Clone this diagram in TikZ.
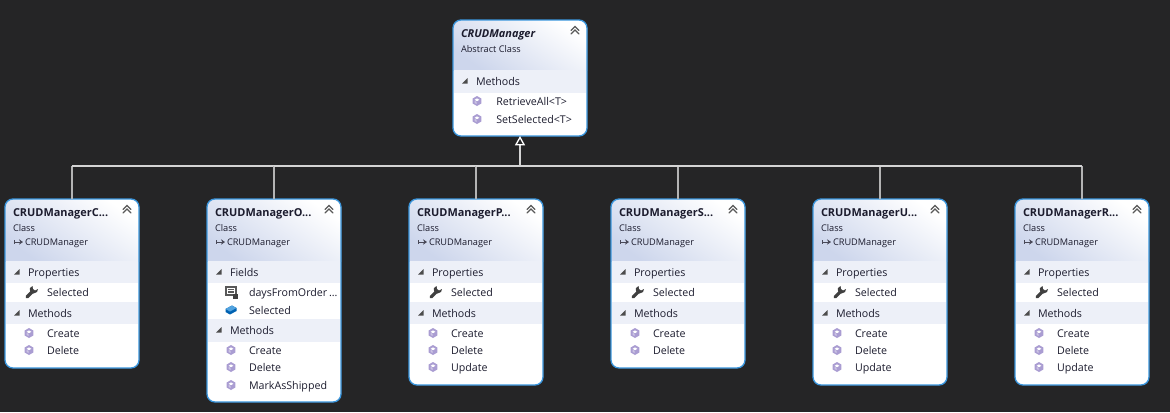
\documentclass[tikz,border=0pt]{standalone}
\usepackage{fontspec}
\setmainfont{Open Sans}
\usetikzlibrary{arrows.meta}
\definecolor{bgc}{HTML}{252526}
\definecolor{edgec}{HTML}{3A96DD}
\definecolor{hdrc}{HTML}{CDD6EC}
\definecolor{bandc}{HTML}{EDF0F8}
\definecolor{inkc}{HTML}{1C1C2E}
\definecolor{linec}{HTML}{D4D4D4}
\definecolor{methc}{HTML}{8E7CC3}
\tikzset{
  txt/.style={anchor=base west,inner sep=0pt,outer sep=0pt,text=inkc,font=\fontsize{8pt}{9pt}\selectfont},
  smalltxt/.style={txt,font=\fontsize{6.9pt}{8pt}\selectfont},
  titletxt/.style={txt,font=\fontsize{8.2pt}{9pt}\selectfont\bfseries},
  boxnode/.style={anchor=north west,inner sep=0pt,outer sep=0pt,minimum width=100.5pt,rectangle,rounded corners=6pt},
  stub/.style={draw=linec!85!black,line width=0.8pt},
  busline/.style={draw=linec,line width=1.2pt},
  inherit/.style={draw=linec,line width=1pt,-{Triangle[open,length=7pt,width=7.5pt,fill=bgc,color=white,line width=1pt]}},
}
% #1 id, #2 x, #3 top, #4 height, #5 header height, #6 title, #7 kind, #8 title style, #9 base line
\newcommand{\classbox}[9]{%
  \def\xo{#2}\def\yo{#3}\def\bid{#1}%
  \node[boxnode,minimum height=#4*0.75pt,fill=white] (#1) at (#2,#3) {};
  \begin{scope}
    \clip[rounded corners=6pt] (#2,#3) rectangle ({#2+134},{#3+#4});
    \shade[top color=white,bottom color=hdrc,shading angle=-35] (#2,#3) rectangle ({#2+134},{#3+#5});
  \end{scope}
  \node[txt,#8] (#1title) at ({#2+8},{#3+17}) {#6};
  \node[smalltxt] (#1kind) at ({#2+8},{#3+32}) {#7};
  \def\tmp{#9}\ifx\tmp\empty\else
    \node[smalltxt] (#1base) at ({#2+20},{#3+46}) {#9};
    \draw[inkc!80,line width=0.6pt,-{Stealth[length=3pt,width=4pt]}] ({#2+9},{#3+43}) -- ({#2+18},{#3+43});
    \draw[inkc!80,line width=0.6pt] ({#2+9},{#3+41}) -- ({#2+9},{#3+45});
  \fi
  \foreach \k in {0,1}{
    \draw[gray!70!black,line width=0.9pt,line cap=round] ({#2+118},{#3+14-\k*3.5}) -- ({#2+122},{#3+10-\k*3.5}) -- ({#2+126},{#3+14-\k*3.5});
  }
}
% #1 id, #2 top offset, #3 height, #4 label
\newcommand{\band}[4]{%
  \fill[bandc] ({\xo+1},{\yo+#2}) rectangle ({\xo+133},{\yo+#2+#3});
  \fill[gray!60!black] ({\xo+14.5},{\yo+#2+8}) -- ({\xo+14.5},{\yo+#2+13.5}) -- ({\xo+9},{\yo+#2+13.5}) -- cycle;
  \node[txt] (#1) at ({\xo+23},{\yo+#2+15}) {#4};
}
% #1 id, #2 centre offset, #3 icon macro, #4 label
\newcommand{\member}[4]{%
  \begin{scope}[shift={({\xo+24},{\yo+#2})}] #3 \end{scope}
  \node[txt] (#1) at ({\xo+42},{\yo+#2+4}) {#4};
}
\newcommand{\iconmeth}{%
  \fill[methc!75!white] (0,-5) -- (4.3,-2.5) -- (4.3,2.5) -- (0,5) -- (-4.3,2.5) -- (-4.3,-2.5) -- cycle;
  \fill[white] (0,-2.6) -- (2.4,-1.2) -- (0,0.2) -- (-2.4,-1.2) -- cycle;
  \fill[methc!45!white] (-2.4,-0.3) -- (-0.4,0.9) -- (-0.4,3) -- (-2.4,1.9) -- cycle;
}
\newcommand{\iconwrench}{%
  \begin{scope}[shift={(1.5,0)}]
  \draw[black!75,line width=2.4pt,line cap=round] (-3.5,5) -- (2,-0.5);
  \fill[black!75] (2,-6) .. controls (-0.5,-5.5) and (-1.5,-3) .. (0,0) -- (3,1.5) .. controls (6,1.5) and (8,-1) .. (7.5,-3) -- (4.5,-1.5) -- (2.5,-3) -- cycle;
  \end{scope}
}
\newcommand{\iconfield}{%
  \draw[black!65,fill=white,line width=0.9pt] (-5,-5) rectangle (5,3);
  \draw[black!65,line width=0.9pt] (-3,-2.5) -- (3,-2.5) (-3,0) -- (3,0);
  \fill[black!75] (2,2) rectangle (7,6.5);
}
\newcommand{\iconblue}{%
  \fill[blue!45!cyan!70!black] (-5.5,-1) -- (1,-4.5) -- (5.5,-2) -- (5.5,1) -- (-1,4.5) -- (-5.5,2) -- cycle;
  \fill[cyan!70!blue!70] (-5.5,-1) -- (1,-4.5) -- (5.5,-2) -- (-1,1.5) -- cycle;
}
\newcommand{\finishbox}[1]{\node[boxnode,draw=edgec,line width=1pt,minimum height=\hh*0.75pt] at (\xo,\yo) {};}
\begin{document}
\begin{tikzpicture}[x=0.75pt,y=-0.75pt]
\useasboundingbox (0,0) rectangle (1170,412);
\fill[bgc] (0,0) rectangle (1170,412);

% Top class
\def\hh{116}
\classbox{top}{453}{20}{116}{50}{\itshape CRUDManager}{Abstract Class}{titletxt}{}
\band{topm}{50}{23}{Methods}
\member{topa}{81}{\iconmeth}{\hspace{1pt}RetrieveAll<T>}
\member{topb}{99}{\iconmeth}{\hspace{1pt}SetSelected<T>}
\finishbox{top}

% C
\def\hh{169}
\classbox{c}{5}{199}{169}{62}{CRUDManagerC...}{Class}{titletxt}{CRUDManager}
\band{cp}{62}{22}{Properties}
\member{cs}{93}{\iconwrench}{Selected}
\band{cm}{103}{22}{Methods}
\member{cc}{134}{\iconmeth}{Create}
\member{cd}{151}{\iconmeth}{Delete}
\finishbox{c}

% O
\def\hh{203}
\classbox{o}{207}{199}{203}{62}{CRUDManagerO...}{Class}{titletxt}{CRUDManager}
\band{of}{62}{22}{Fields}
\member{od}{93}{\iconfield}{daysFromOrder\,...}
\member{os}{111}{\iconblue}{Selected}
\band{om}{120}{23}{Methods}
\member{oc}{151}{\iconmeth}{Create}
\member{oe}{168}{\iconmeth}{Delete}
\member{ox}{186}{\iconmeth}{MarkAsShipped}
\finishbox{o}

% P
\def\hh{186}
\classbox{p}{409}{199}{186}{62}{CRUDManagerP...}{Class}{titletxt}{CRUDManager}
\band{pp}{62}{22}{Properties}
\member{ps}{93}{\iconwrench}{Selected}
\band{pm}{103}{22}{Methods}
\member{pc}{134}{\iconmeth}{Create}
\member{pd}{151}{\iconmeth}{Delete}
\member{pu}{168}{\iconmeth}{Update}
\finishbox{p}

% S
\def\hh{169}
\classbox{s}{611}{199}{169}{62}{CRUDManagerS...}{Class}{titletxt}{CRUDManager}
\band{sp}{62}{22}{Properties}
\member{ss}{93}{\iconwrench}{Selected}
\band{sm}{103}{22}{Methods}
\member{sc}{134}{\iconmeth}{Create}
\member{sd}{151}{\iconmeth}{Delete}
\finishbox{s}

% U
\def\hh{186}
\classbox{u}{813}{199}{186}{62}{CRUDManagerU...}{Class}{titletxt}{CRUDManager}
\band{up}{62}{22}{Properties}
\member{us}{93}{\iconwrench}{Selected}
\band{um}{103}{22}{Methods}
\member{uc}{134}{\iconmeth}{Create}
\member{ud}{151}{\iconmeth}{Delete}
\member{uu}{168}{\iconmeth}{Update}
\finishbox{u}

% R
\def\hh{186}
\classbox{r}{1015}{199}{186}{62}{CRUDManagerR...}{Class}{titletxt}{CRUDManager}
\band{rp}{62}{22}{Properties}
\member{rs}{93}{\iconwrench}{Selected}
\band{rm}{103}{22}{Methods}
\member{rc}{134}{\iconmeth}{Create}
\member{rd}{151}{\iconmeth}{Delete}
\member{ru}{168}{\iconmeth}{Update}
\finishbox{r}

% connectors
\coordinate (bus) at (520,166);
\foreach \ch in {c,o,p,s,u,r}{
  \draw[stub] (\ch.north) -- (\ch.north |- bus);
  \draw[busline] (\ch.north |- bus) -- (bus);
}
\draw[inherit] (bus) -- (top.south);
\end{tikzpicture}
\end{document}
